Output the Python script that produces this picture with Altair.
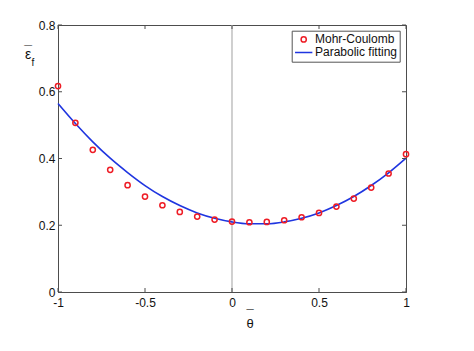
import altair as alt
import pandas as pd

# ---- data ----
theta = [-1.0, -0.9, -0.8, -0.7, -0.6, -0.5, -0.4, -0.3, -0.2, -0.1, 0.0,
         0.1, 0.2, 0.3, 0.4, 0.5, 0.6, 0.7, 0.8, 0.9, 1.0]
mohr_coulomb = [0.617, 0.507, 0.426, 0.366, 0.320, 0.286, 0.260, 0.240, 0.226, 0.217, 0.211,
                0.209, 0.210, 0.215, 0.224, 0.237, 0.256, 0.280, 0.313, 0.355, 0.413]
parabolic_fit = [0.565, 0.505, 0.450, 0.401, 0.358, 0.319, 0.286, 0.259, 0.237, 0.221, 0.210,
                 0.2045, 0.2045, 0.210, 0.221, 0.237, 0.259, 0.286, 0.319, 0.357, 0.401]
series_names = ["Mohr-Coulomb", "Parabolic fitting"]
x_ticks = [-1, -0.5, 0, 0.5, 1]
y_ticks = [0, 0.2, 0.4, 0.6, 0.8]
zero_line = [0]

FONT = "Liberation Sans"
AX = "#4d4d4d"
W, H = 348, 267

df_mc = pd.DataFrame({"theta": theta, "eps": mohr_coulomb, "series": series_names[0]})
df_fit = pd.DataFrame({"theta": theta, "eps": parabolic_fit, "series": series_names[1]})
df_xt = pd.DataFrame({"v": x_ticks})
df_yt = pd.DataFrame({"v": y_ticks})
df_zero = pd.DataFrame({"v": zero_line})

xs = alt.Scale(domain=[-1, 1], nice=False, zero=False)
ys = alt.Scale(domain=[0, 0.8], nice=False)

x_axis = alt.Axis(values=x_ticks, labelExpr="'' + datum.value", title=None, grid=False,
                  ticks=False, labelPadding=5, labelFlush=False, labelOverlap=False,
                  labelFont=FONT, labelFontSize=12, labelColor="#111", domainColor=AX)
y_axis = alt.Axis(values=y_ticks, labelExpr="'' + datum.value", title=None, grid=False,
                  ticks=False, labelPadding=3, labelFlush=False, labelOverlap=False,
                  labelFont=FONT, labelFontSize=12, labelColor="#111", domainColor=AX)

# symbols are drawn at size 300 (unit path scaled by sqrt(300)/2): small circle, 17px stroke
SYM_SIZE = 300
small_circle = "M0.3,0A0.3,0.3,0,1,1,-0.3,0A0.3,0.3,0,1,1,0.3,0"
stroke_path = "M-1,0H1"

legend = alt.Legend(title=None, orient="none", legendX=233.7, legendY=5.7,
                    strokeColor="#555", fillColor="white", padding=2.5,
                    labelFont=FONT, labelFontSize=12, labelColor="#111",
                    rowPadding=0, clipHeight=12.5, symbolSize=SYM_SIZE,
                    symbolStrokeWidth=1.5, labelOffset=1.8)
color = alt.Color("series:N", scale=alt.Scale(domain=series_names, range=["#ee1c25", "#1f35e0"]),
                  legend=legend)
shape = alt.Shape("series:N", scale=alt.Scale(domain=series_names, range=[small_circle, stroke_path]),
                  legend=legend)

zero = alt.Chart(df_zero).mark_rule(color="#c4c4c4", strokeWidth=1.6).encode(
    x=alt.X("v:Q", scale=xs, axis=x_axis))

fit = alt.Chart(df_fit).mark_line(strokeWidth=1.6, interpolate="monotone").encode(
    x=alt.X("theta:Q", scale=xs, axis=x_axis),
    y=alt.Y("eps:Q", scale=ys, axis=y_axis),
    color=color)

pts = alt.Chart(df_mc).mark_point(filled=False, size=SYM_SIZE, strokeWidth=1.5, opacity=1).encode(
    x=alt.X("theta:Q", scale=xs, axis=x_axis),
    y=alt.Y("eps:Q", scale=ys, axis=y_axis),
    color=color, shape=shape)

tick_b = alt.Chart(df_xt).mark_rule(color=AX).encode(
    x=alt.X("v:Q", scale=xs, axis=x_axis), y=alt.value(H), y2=alt.value(H - 4))
tick_t = alt.Chart(df_xt).mark_rule(color=AX).encode(
    x=alt.X("v:Q", scale=xs, axis=x_axis), y=alt.value(0), y2=alt.value(4))
tick_l = alt.Chart(df_yt).mark_rule(color=AX).encode(
    y=alt.Y("v:Q", scale=ys, axis=y_axis), x=alt.value(0), x2=alt.value(4))
tick_r = alt.Chart(df_yt).mark_rule(color=AX).encode(
    y=alt.Y("v:Q", scale=ys, axis=y_axis), x=alt.value(W), x2=alt.value(W - 4))

def label(txt, x, y, size):
    return alt.Chart(pd.DataFrame({"t": [txt]})).mark_text(
        font=FONT, fontSize=size, color="#111", baseline="middle", align="center").encode(
        text="t:N", x=alt.value(x), y=alt.value(y))

y_title = label("ε", -30, 30, 14) + label("f", -25, 38, 10) + label("¯", -30, 27, 14)
x_title = label("θ", 192, 299, 13) + label("¯", 192, 290, 13)

chart = alt.layer(zero, fit, pts, tick_b, tick_t, tick_l, tick_r, y_title, x_title).properties(
    width=W, height=H,
    autosize=alt.AutoSizeParams(type="none"),
    padding={"left": 58, "top": 25, "right": 68, "bottom": 59},
    background="white",
).configure_view(stroke=AX, strokeWidth=1)

chart.save("out.html", embed_options={"renderer": "svg", "actions": False})
